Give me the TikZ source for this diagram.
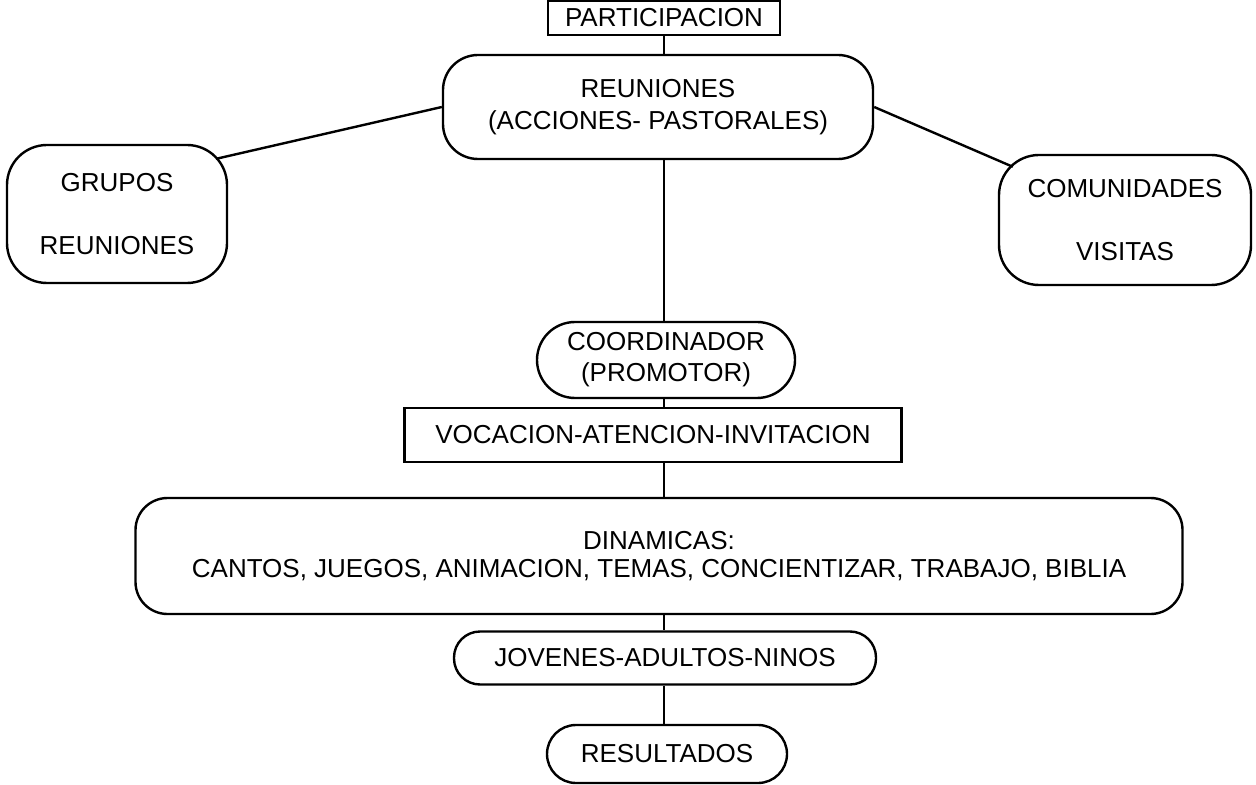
\documentclass[tikz,border=0pt]{standalone}
\usepackage{fontspec}
\setmainfont{Liberation Sans}
\usepackage{tikz}
\usetikzlibrary{calc}

\tikzset{
  caja/.style={draw, line width=1.2pt, inner sep=0pt, align=center,
    font=\fontsize{13}{16}\selectfont},
  redonda/.style={caja, rounded corners=#1},
  conector/.style={line width=1.2pt},
}

\begin{document}
\begin{tikzpicture}[x=0.5pt, y=-0.5pt]
\useasboundingbox (0,0) rectangle (1256,785);
\coordinate (eje) at (664,0);

\node[caja, minimum width=116pt, minimum height=17pt] (part) at (664,18) {PARTICIPACION};
\node[redonda=17.5pt, minimum width=215pt, minimum height=52pt] (reun) at (658,107)
  {REUNIONES\\(ACCIONES- PASTORALES)};
\node[redonda=20pt, minimum width=110pt, minimum height=69pt,
  font=\fontsize{13}{31.5}\selectfont] (grupos) at (117,214) {GRUPOS\\REUNIONES};
\node[redonda=20pt, minimum width=126pt, minimum height=65pt,
  font=\fontsize{13}{31.5}\selectfont] (comun) at (1125,220) {COMUNIDADES\\VISITAS};
\node[redonda=19pt, minimum width=129pt, minimum height=38pt,
  font=\fontsize{13}{15.5}\selectfont] (coord) at (666,360) {COORDINADOR\\(PROMOTOR)};
\node[caja, minimum width=248.5pt, minimum height=27pt] (voc) at (653,435)
  {VOCACION-ATENCION-INVITACION};
\node[redonda=16pt, minimum width=523.5pt, minimum height=58pt,
  font=\fontsize{13}{14}\selectfont] (dinam) at (659,556)
  {DINAMICAS:\\CANTOS, JUEGOS, ANIMACION, TEMAS, CONCIENTIZAR, TRABAJO, BIBLIA};
\node[redonda=13pt, minimum width=211pt, minimum height=26.5pt] (jov) at (665,658)
  {JOVENES-ADULTOS-NINOS};
\node[redonda=14.5pt, minimum width=120pt, minimum height=29pt] (res) at (667,754)
  {RESULTADOS};

\draw[conector] (eje |- part.south) -- (eje |- reun.north);
\draw[conector] ($(grupos.north east)+(-12,15)$) -- (reun.west);
\draw[conector] (reun.east) -- ($(comun.north west)+(15,13)$);
\draw[conector] (eje |- reun.south) -- (eje |- coord.north);
\draw[conector] (eje |- coord.south) -- (eje |- voc.north);
\draw[conector] (eje |- voc.south) -- (eje |- dinam.north);
\draw[conector] (eje |- dinam.south) -- (eje |- jov.north);
\draw[conector] (eje |- jov.south) -- (eje |- res.north);
\end{tikzpicture}
\end{document}
